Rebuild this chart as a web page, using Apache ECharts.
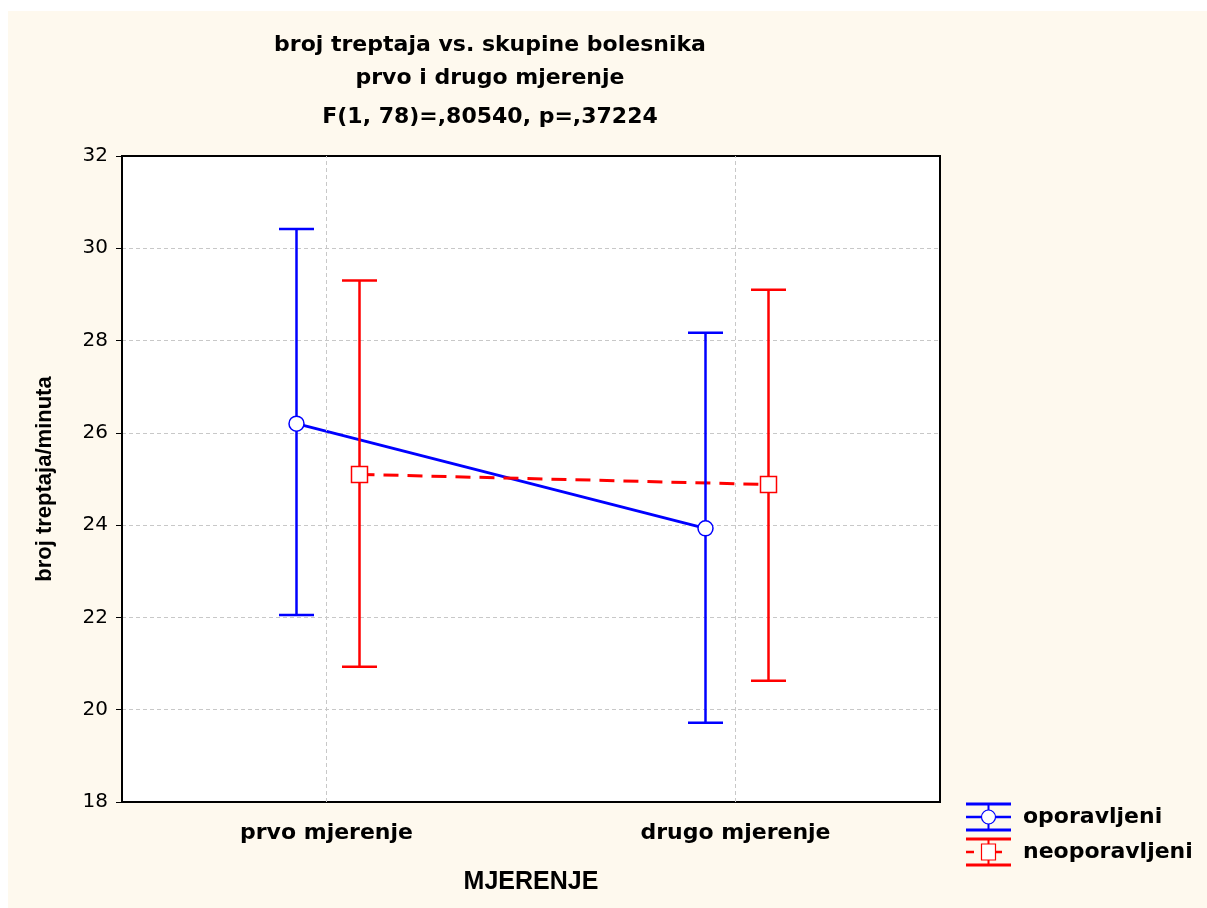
<!DOCTYPE html>
<html>
<head>
<meta charset="utf-8">
<script src="https://cdn.jsdelivr.net/npm/echarts@6/dist/echarts.min.js"></script>
<style>
  html, body { margin: 0; padding: 0; background: #fff; }
  #main-chart { width: 1207px; height: 908px; }
</style>
</head>
<body>
<div id="main-chart"></div>
<script>
// data
const categories = ['prvo mjerenje', 'drugo mjerenje']
const yTicks = [18, 20, 22, 24, 26, 28, 30, 32]
const oporavljeniMean = [26.2, 23.93]
const oporavljeniLow = [22.05, 19.72]
const oporavljeniHigh = [30.42, 28.17]
const neoporavljeniMean = [25.1, 24.88]
const neoporavljeniLow = [20.93, 20.63]
const neoporavljeniHigh = [29.3, 29.1]

const BLUE = '#0000ff'
const RED = '#ff0000'
const SANS = '"Liberation Sans", Arial, sans-serif'
const WIDE = '"DejaVu Sans", "Liberation Sans", sans-serif'

const $main = document.querySelector('#main-chart')
const chart = echarts.init($main, null, { renderer: 'canvas' })

const rows = (mean, low, high) => mean.map((m, i) => [i, m, low[i], high[i]])

// error bar + mean marker, shifted sideways within the category
const errSeries = (name, data, color, shift, marker, dashed) => ({
  name: name,
  type: 'custom',
  data: data,
  encode: { x: 0, y: [1, 2, 3] },
  renderItem: (params, api) => {
    const i = params.dataIndex
    const c = api.coord([api.value(0), api.value(1)])
    const lo = api.coord([api.value(0), api.value(2)])
    const hi = api.coord([api.value(0), api.value(3)])
    const x = c[0] + shift
    const cap = 17.5
    const children = [
      { type: 'line', z2: 5, shape: { x1: x, y1: hi[1], x2: x, y2: lo[1] }, style: { stroke: color, lineWidth: 2.5 } },
      { type: 'line', z2: 5, shape: { x1: x - cap, y1: hi[1], x2: x + cap, y2: hi[1] }, style: { stroke: color, lineWidth: 2.5 } },
      { type: 'line', z2: 5, shape: { x1: x - cap, y1: lo[1], x2: x + cap, y2: lo[1] }, style: { stroke: color, lineWidth: 2.5 } }
    ]
    if (i > 0) {
      const p = api.coord([data[i - 1][0], data[i - 1][1]])
      children.push({
        type: 'line', z2: 2,
        shape: { x1: p[0] + shift, y1: p[1], x2: x, y2: c[1] },
        style: { stroke: color, lineWidth: 3, lineDash: dashed ? [15, 9] : null }
      })
    }
    if (marker === 'circle') {
      children.push({ type: 'circle', z2: 10, shape: { cx: x, cy: c[1], r: 7.5 }, style: { fill: '#fff', stroke: color, lineWidth: 1.5 } })
    } else {
      children.push({ type: 'rect', z2: 10, shape: { x: x - 8, y: c[1] - 8, width: 16, height: 16 }, style: { fill: '#fff', stroke: color, lineWidth: 1.5 } })
    }
    return { type: 'group', children: children }
  }
})

const legendItem = (y, color, label, marker, dashed) => {
  const x0 = 966, x1 = 1011, xm = 988.5
  const els = [
    { type: 'line', shape: { x1: x0, y1: y - 13, x2: x1, y2: y - 13 }, style: { stroke: color, lineWidth: 3 } },
    { type: 'line', shape: { x1: x0, y1: y + 13, x2: x1, y2: y + 13 }, style: { stroke: color, lineWidth: 3 } },
    { type: 'line', shape: { x1: xm, y1: y - 13, x2: xm, y2: y + 13 }, style: { stroke: color, lineWidth: 2 } },
    { type: 'line', shape: { x1: x0, y1: y, x2: x1, y2: y }, style: { stroke: color, lineWidth: 2.5, lineDash: dashed ? [8, 20] : null } }
  ]
  if (marker === 'circle') {
    els.push({ type: 'circle', shape: { cx: xm, cy: y, r: 7 }, style: { fill: '#fff', stroke: color, lineWidth: 1.2 } })
  } else {
    els.push({ type: 'rect', shape: { x: xm - 7, y: y - 8, width: 14, height: 16 }, style: { fill: '#fff', stroke: color, lineWidth: 1.2 } })
  }
  els.push({ type: 'text', x: 1023, y: y, style: { text: label, font: 'bold 22px ' + WIDE, fill: '#000', verticalAlign: 'middle' } })
  return els
}

const titleLine = (y, text) => ({
  type: 'text', x: 490, y: y,
  style: { text: text, font: 'bold 22px ' + WIDE, fill: '#000', align: 'center', verticalAlign: 'middle' }
})

const option = {
  backgroundColor: '#fff',
  animation: false,
  graphic: [
    { type: 'rect', z: -100, shape: { x: 8, y: 11, width: 1207, height: 908 }, style: { fill: '#fef9ee' }, silent: true },
    titleLine(45, 'broj treptaja vs. skupine bolesnika'),
    titleLine(78, 'prvo i drugo mjerenje'),
    titleLine(117, 'F(1, 78)=,80540, p=,37224'),
    ...legendItem(817, BLUE, 'oporavljeni', 'circle', false),
    ...legendItem(852, RED, 'neoporavljeni', 'square', true)
  ],
  grid: {
    left: 122,
    right: 267,
    top: 156,
    bottom: 106,
    show: true,
    backgroundColor: '#fff',
    borderColor: '#000',
    borderWidth: 2
  },
  xAxis: {
    type: 'category',
    data: categories,
    boundaryGap: true,
    name: 'MJERENJE',
    nameLocation: 'middle',
    nameGap: 68,
    nameTextStyle: { fontFamily: SANS, fontWeight: 'bold', fontSize: 25, color: '#000' },
    axisLine: { lineStyle: { color: '#000', width: 2 } },
    axisTick: { inside: true, alignWithLabel: true, length: 5, lineStyle: { color: '#000' } },
    axisLabel: { margin: 20, fontFamily: WIDE, fontWeight: 'bold', fontSize: 22, color: '#000' },
    splitLine: { show: false }
  },
  yAxis: {
    type: 'value',
    min: yTicks[0],
    max: yTicks[yTicks.length - 1],
    interval: 2,
    name: 'broj treptaja/minuta',
    nameLocation: 'middle',
    nameGap: 66,
    nameTextStyle: { fontFamily: SANS, fontWeight: 'bold', fontSize: 22, color: '#000' },
    axisLine: { show: true, lineStyle: { color: '#000', width: 2 } },
    axisTick: { show: true, length: 6, lineStyle: { color: '#000' } },
    axisLabel: { margin: 14, fontFamily: WIDE, fontSize: 20, color: '#000' },
    splitLine: { show: true, showMinLine: false, showMaxLine: false, lineStyle: { color: '#c8c8c8', type: [4, 3], width: 1 } }
  },
  series: [
    Object.assign(errSeries('oporavljeni', rows(oporavljeniMean, oporavljeniLow, oporavljeniHigh), BLUE, -30, 'circle', false), {
      markLine: {
        silent: true,
        symbol: 'none',
        label: { show: false },
        lineStyle: { color: '#c8c8c8', type: [4, 3], width: 1 },
        data: categories.map(c => ({ xAxis: c }))
      }
    }),
    errSeries('neoporavljeni', rows(neoporavljeniMean, neoporavljeniLow, neoporavljeniHigh), RED, 33, 'square', true)
  ]
}
chart.setOption(option)
</script>
</body>
</html>
